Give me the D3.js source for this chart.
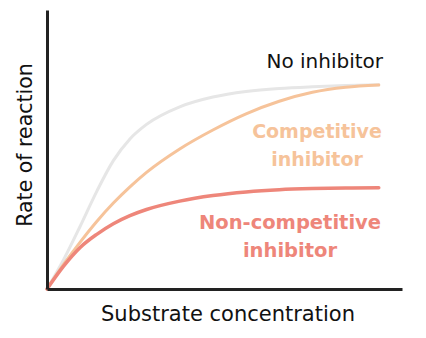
<!DOCTYPE html>
<html>
<head>
<meta charset="utf-8">
<script src="https://cdn.jsdelivr.net/npm/d3@7"></script>
<style>
  body { margin: 0; background: #fff; }
  text { font-family: "DejaVu Sans", sans-serif; }
</style>
</head>
<body>
<svg width="426" height="338"></svg>
<script>
// substrate concentration (arbitrary units)
const substrate = [0, 0.5, 1, 1.5, 2, 2.5, 3, 4, 5, 6, 7, 8, 9, 10]
// rate of reaction
const noInhibitor = [0, 10.5, 22.5, 35, 46, 53.8, 59, 65.3, 68.8, 70.8, 71.9, 72.5, 72.9, 73.2]
const competitive = [0, 8.8, 16.8, 24.2, 30.8, 36.6, 41.8, 50.2, 57, 62.8, 67.3, 70.5, 72.3, 73.1]
const nonCompetitive = [0, 8.2, 14.9, 19.6, 23.4, 26.3, 28.5, 31.5, 33.5, 34.8, 35.6, 36, 36.2, 36.3]

const seriesNames = ['No inhibitor', 'Competitive', 'Non-competitive']
const seriesColors = ['#e6e6e6', '#f6c39a', '#ee867a']

const svg = d3.select('svg')

const xScale = d3.scaleLinear()
    .domain([0, 10.7])
    .range([47, 402])

const yScale = d3.scaleLinear()
    .domain([0, 100])
    .range([289, 10])

const line = d3.line()
    .x((d, i) => xScale(substrate[i]))
    .y(d => yScale(d))
    .curve(d3.curveMonotoneX)

const allSeries = [noInhibitor, competitive, nonCompetitive]
allSeries.forEach(function (values, i) {
    svg.append('path')
        .datum(values)
        .attr('d', line)
        .style('fill', 'none')
        .style('stroke', seriesColors[i])
        .style('stroke-width', i == 2 ? 3.5 : 3)
        .style('stroke-linecap', 'round')
})

// axes, no ticks
const xAxis = d3.axisBottom(xScale).tickValues([]).tickSizeOuter(0)
const yAxis = d3.axisLeft(yScale).tickValues([]).tickSizeOuter(0)

svg.append('g')
    .attr('transform', `translate(0,${yScale(0)})`)
    .call(xAxis)
    .select('.domain')
    .style('stroke', '#222')
    .style('stroke-width', 3)

svg.append('g')
    .attr('transform', `translate(${xScale(0)},0)`)
    .call(yAxis)
    .select('.domain')
    .style('stroke', '#222')
    .style('stroke-width', 3)

// labels
svg.append('text')
    .attr('x', 383).attr('y', 68)
    .attr('text-anchor', 'end')
    .style('font-size', '20px')
    .style('fill', '#111')
    .text(seriesNames[0])

const compLabel = svg.append('text')
    .attr('text-anchor', 'middle')
    .style('font-size', '19px')
    .style('font-weight', 'bold')
    .style('fill', seriesColors[1])
compLabel.append('tspan').attr('x', 317).attr('y', 138).text('Competitive')
compLabel.append('tspan').attr('x', 317).attr('y', 166).text('inhibitor')

const nonLabel = svg.append('text')
    .attr('text-anchor', 'middle')
    .style('font-size', '19.5px')
    .style('font-weight', 'bold')
    .style('fill', seriesColors[2])
nonLabel.append('tspan').attr('x', 290).attr('y', 229).text('Non-competitive')
nonLabel.append('tspan').attr('x', 290).attr('y', 257).text('inhibitor')

svg.append('text')
    .attr('x', 228).attr('y', 321)
    .attr('text-anchor', 'middle')
    .style('font-size', '21px')
    .style('fill', '#111')
    .text('Substrate concentration')

svg.append('text')
    .attr('transform', 'translate(32,145) rotate(-90)')
    .attr('text-anchor', 'middle')
    .style('font-size', '20.5px')
    .style('fill', '#111')
    .text('Rate of reaction')
</script>
</body>
</html>
